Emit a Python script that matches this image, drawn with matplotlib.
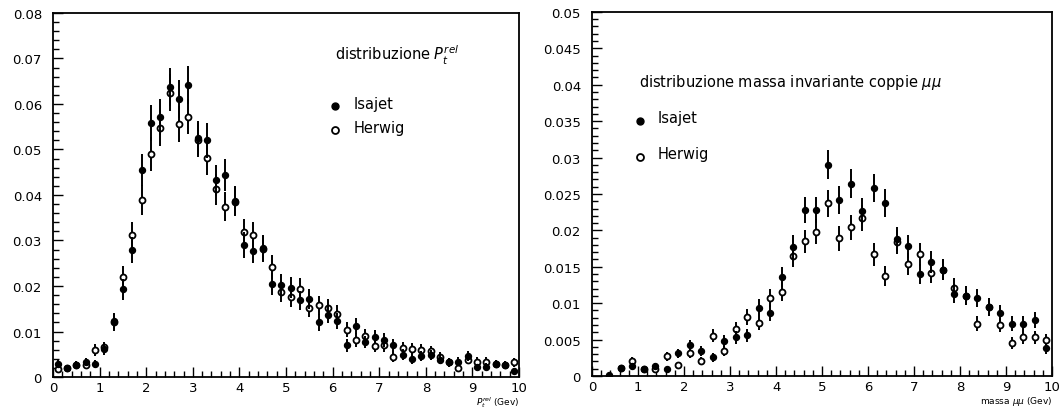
import numpy as np
import matplotlib
matplotlib.use("Agg")
import matplotlib.pyplot as plt
from matplotlib.ticker import MultipleLocator, FormatStrFormatter

# ---- transverse momentum of the muon relative to the jet (bins of 0.2 GeV)
pt_centers = np.arange(0.1, 10.0, 0.2)
pt_isajet = [0.0028, 0.0020, 0.0026, 0.0033, 0.0029, 0.0062, 0.0123, 0.0193, 0.0279, 0.0455,
             0.0558, 0.0571, 0.0638, 0.0611, 0.0642, 0.0525, 0.0520, 0.0432, 0.0443, 0.0387,
             0.0290, 0.0277, 0.0283, 0.0204, 0.0203, 0.0196, 0.0169, 0.0172, 0.0120, 0.0137,
             0.0123, 0.0070, 0.0112, 0.0077, 0.0088, 0.0081, 0.0070, 0.0049, 0.0039, 0.0046,
             0.0048, 0.0038, 0.0032, 0.0034, 0.0046, 0.0021, 0.0023, 0.0028, 0.0026, 0.0013]
pt_isajet_err = [0.00087, 0.00074, 0.00084, 0.00095, 0.00089, 0.0013, 0.0018, 0.0023, 0.0028, 0.0035,
                 0.0039, 0.0039, 0.0042, 0.0041, 0.0042, 0.0038, 0.0038, 0.0034, 0.0035, 0.0032,
                 0.0028, 0.0027, 0.0028, 0.0024, 0.0024, 0.0023, 0.0021, 0.0022, 0.0018, 0.0019,
                 0.0018, 0.0014, 0.0017, 0.0014, 0.0015, 0.0015, 0.0014, 0.0012, 0.0010, 0.0011,
                 0.0011, 0.0010, 0.00093, 0.00096, 0.0011, 0.00076, 0.00079, 0.00087, 0.00084, 0.00059]
pt_herwig = [0.0018, 0.0020, 0.0026, 0.0026, 0.0060, 0.0065, 0.0120, 0.0220, 0.0312, 0.0389,
             0.0490, 0.0547, 0.0625, 0.0556, 0.0572, 0.0521, 0.0481, 0.0413, 0.0374, 0.0385,
             0.0318, 0.0312, 0.0281, 0.0242, 0.0187, 0.0175, 0.0194, 0.0152, 0.0158, 0.0152,
             0.0139, 0.0104, 0.0081, 0.0090, 0.0068, 0.0070, 0.0044, 0.0064, 0.0062, 0.0059,
             0.0057, 0.0044, 0.0032, 0.0020, 0.0038, 0.0034, 0.0034, 0.0028, 0.0026, 0.0032]
pt_herwig_err = [0.0007, 0.00074, 0.00084, 0.00084, 0.0013, 0.0013, 0.0018, 0.0024, 0.0029, 0.0032,
                 0.0037, 0.0039, 0.0041, 0.0039, 0.0039, 0.0038, 0.0036, 0.0034, 0.0032, 0.0032,
                 0.0029, 0.0029, 0.0028, 0.0026, 0.0023, 0.0022, 0.0023, 0.0020, 0.0021, 0.0020,
                 0.0019, 0.0017, 0.0015, 0.0016, 0.0014, 0.0014, 0.0011, 0.0013, 0.0013, 0.0013,
                 0.0012, 0.0011, 0.00093, 0.00074, 0.0010, 0.00096, 0.00096, 0.00087, 0.00084, 0.00093]

# ---- invariant mass of the muon pair (bins of 0.25 GeV)
m_centers = np.arange(0.125, 10.0, 0.25)
nan = np.nan
m_isajet = [nan, 0.0002, 0.0011, 0.0014, 0.0010, 0.0014, 0.0009, 0.0031, 0.0042, 0.0034,
            0.0026, 0.0048, 0.0053, 0.0056, 0.0094, 0.0087, 0.0136, 0.0177, 0.0228, 0.0228,
            0.0290, 0.0242, 0.0264, 0.0227, 0.0258, 0.0238, 0.0188, 0.0178, 0.0140, 0.0156,
            0.0146, 0.0113, 0.0110, 0.0107, 0.0095, 0.0087, 0.0072, 0.0072, 0.0077, 0.0038]
m_isajet_err = [nan, 0.00017, 0.0004, 0.00045, 0.00038, 0.00045, 0.00036, 0.00067, 0.00078, 0.0007,
                0.00061, 0.00083, 0.00087, 0.0009, 0.0012, 0.0011, 0.0014, 0.0016, 0.0018, 0.0018,
                0.0020, 0.0019, 0.0020, 0.0018, 0.0019, 0.0019, 0.0016, 0.0016, 0.0014, 0.0015,
                0.0014, 0.0013, 0.0013, 0.0012, 0.0012, 0.0011, 0.0010, 0.0010, 0.0011, 0.00074]
m_herwig = [nan, nan, 0.0011, 0.0020, 0.0010, 0.0009, 0.0027, 0.0015, 0.0032, 0.0021,
            0.0055, 0.0034, 0.0064, 0.0081, 0.0073, 0.0107, 0.0116, 0.0165, 0.0185, 0.0198,
            0.0237, 0.0189, 0.0204, 0.0217, 0.0167, 0.0137, 0.0184, 0.0154, 0.0167, 0.0142,
            0.0146, 0.0121, 0.0110, 0.0072, 0.0095, 0.0070, 0.0045, 0.0053, 0.0053, 0.0049]
m_herwig_err = [nan, nan, 0.0004, 0.00054, 0.00038, 0.00036, 0.00062, 0.00046, 0.00068, 0.00055,
                0.00089, 0.0007, 0.00096, 0.0011, 0.0010, 0.0012, 0.0013, 0.0015, 0.0016, 0.0017,
                0.0018, 0.0017, 0.0017, 0.0018, 0.0016, 0.0014, 0.0016, 0.0015, 0.0016, 0.0014,
                0.0014, 0.0013, 0.0013, 0.0010, 0.0012, 0.0010, 0.0008, 0.00087, 0.00087, 0.00084]

pt_yticks = [0, 0.01, 0.02, 0.03, 0.04, 0.05, 0.06, 0.07, 0.08]
pt_ylabels = ["0", "0.01", "0.02", "0.03", "0.04", "0.05", "0.06", "0.07", "0.08"]
m_yticks = [0, 0.005, 0.01, 0.015, 0.02, 0.025, 0.03, 0.035, 0.04, 0.045, 0.05]
m_ylabels = ["0", "0.005", "0.01", "0.015", "0.02", "0.025", "0.03", "0.035", "0.04", "0.045", "0.05"]

plt.rcParams["font.family"] = ["DejaVu Sans"]
plt.rcParams["mathtext.fontset"] = "dejavusans"

fig = plt.figure(figsize=(10.63, 4.10), dpi=100)
ax1 = fig.add_axes([0.0499, 0.078, 0.4384, 0.888])
ax2 = fig.add_axes([0.557, 0.0805, 0.4327, 0.888])


def draw_points(ax, x, ys, es, yh, eh):
    ax.errorbar(x, yh, yerr=eh, fmt="o", ms=4.3, mfc="white", mec="black", mew=1.3,
                ecolor="black", elinewidth=1.4, capsize=0, zorder=3)
    ax.errorbar(x, ys, yerr=es, fmt="o", ms=4.3, mfc="black", mec="black", mew=1.0,
                ecolor="black", elinewidth=1.4, capsize=0, zorder=4)


def style_axes(ax, ymax, yminor, yticks, ylabels):
    ax.set_xlim(0, 10)
    ax.set_ylim(0, ymax)
    ax.xaxis.set_major_locator(MultipleLocator(1))
    ax.xaxis.set_minor_locator(MultipleLocator(0.2))
    ax.xaxis.set_major_formatter(FormatStrFormatter("%d"))
    ax.set_yticks(yticks)
    ax.set_yticklabels(ylabels)
    ax.yaxis.set_minor_locator(MultipleLocator(yminor))
    ax.tick_params(which="both", direction="in", top=False, right=False,
                   labelsize=9.5, width=1.0)
    ax.tick_params(which="major", length=7)
    ax.tick_params(which="minor", length=4)
    ax.tick_params(axis="y", pad=8)
    ax.tick_params(axis="x", pad=3)
    for s in ax.spines.values():
        s.set_linewidth(1.3)


draw_points(ax1, pt_centers, pt_isajet, pt_isajet_err, pt_herwig, pt_herwig_err)
style_axes(ax1, 0.08, 0.002, pt_yticks, pt_ylabels)
ax1.text(6.05, 0.0708, r"distribuzione $P_t^{rel}$", fontsize=10.5, va="center")
ax1.plot([6.05], [0.0596], "o", ms=5, color="black")
ax1.text(6.45, 0.0600, "Isajet", fontsize=10.5, va="center")
ax1.plot([6.05], [0.0543], "o", ms=5, mfc="white", mec="black", mew=1.3)
ax1.text(6.45, 0.0548, "Herwig", fontsize=10.5, va="center")
ax1.text(1.0, -0.066, r"$P_t^{rel}$ (Gev)", transform=ax1.transAxes,
         ha="right", va="center", fontsize=6.5)

draw_points(ax2, m_centers, m_isajet, m_isajet_err, m_herwig, m_herwig_err)
style_axes(ax2, 0.05, 0.001, m_yticks, m_ylabels)
ax2.text(1.02, 0.0405, r"distribuzione massa invariante coppie $\mu\mu$", fontsize=10.5, va="center")
ax2.plot([1.04], [0.0350], "o", ms=5, color="black")
ax2.text(1.43, 0.0355, "Isajet", fontsize=10.5, va="center")
ax2.plot([1.04], [0.0301], "o", ms=5, mfc="white", mec="black", mew=1.3)
ax2.text(1.43, 0.0306, "Herwig", fontsize=10.5, va="center")
ax2.text(1.0, -0.066, r"massa $\mu\mu$ (Gev)", transform=ax2.transAxes,
         ha="right", va="center", fontsize=6.5)

fig.savefig("out.png", dpi=100, facecolor="white")
